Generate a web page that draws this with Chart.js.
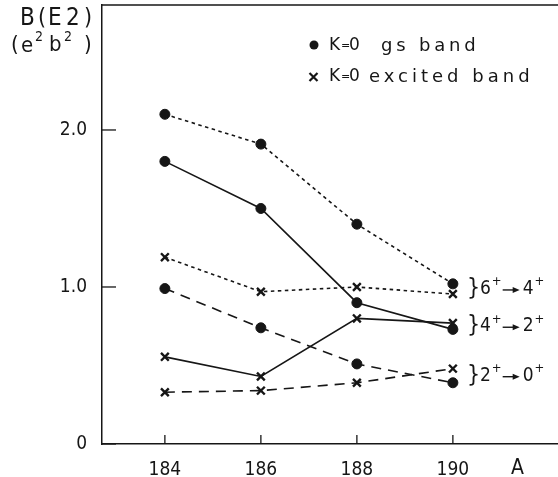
<!DOCTYPE html>
<html lang="en">
<head>
<meta charset="UTF-8">
<title>B(E2) values</title>
<script src="https://cdn.jsdelivr.net/npm/chart.js@4.4.0/dist/chart.umd.min.js"></script>
<style>
    body{ margin:0; background:#fff; }
    #wrap{ width:558px; height:477px; }
</style>
</head>
<body>
<div id="wrap"><canvas id="c" width="558" height="477"></canvas></div>
<script>
// mass number A
var massNumbers = [184, 186, 188, 190];
var xTicks = [184, 186, 188, 190];
var yTicks = [0, 1, 2];
var yTickLabels = ['0', '1.0', '2.0'];

// K=0 gs band
var gs64 = [2.10, 1.91, 1.40, 1.02];
var gs42 = [1.80, 1.50, 0.90, 0.73];
var gs20 = [0.99, 0.74, 0.51, 0.39];
// K=0 excited band
var ex64 = [1.19, 0.97, 1.00, 0.955];
var ex42 = [0.555, 0.43, 0.80, 0.77];
var ex20 = [0.33, 0.34, 0.39, 0.48];

var transitions = [
    { from: '6', to: '4', gs: gs64, ex: ex64 },
    { from: '4', to: '2', gs: gs42, ex: ex42 },
    { from: '2', to: '0', gs: gs20, ex: ex20 }
];

var INK = '#161616';
var FONT = '"DejaVu Sans Condensed", "DejaVu Sans", sans-serif';
var WIDE = '"DejaVu Sans", sans-serif';

function pts(vals) {
    return vals.map(function (v, i) { return { x: massNumbers[i], y: v }; });
}

var DOT = [3.5, 3.5], DASH = [10, 7];

function series(label, vals, dash, style) {
    return {
        label: label,
        data: pts(vals),
        borderColor: INK,
        backgroundColor: INK,
        borderWidth: 1.6,
        borderDash: dash,
        pointStyle: style,
        pointRadius: style === 'circle' ? 5 : 5.5,
        pointBorderWidth: style === 'circle' ? 1 : 2.4,
        fill: false,
        tension: 0
    };
}

function txt(ctx, s, x, y, size, spacing, family) {
    ctx.font = size + 'px ' + (family || FONT);
    ctx.letterSpacing = (spacing || 0) + 'px';
    ctx.fillText(s, x, y);
    var w = ctx.measureText(s).width;
    ctx.letterSpacing = '0px';
    return w;
}

function drawTransition(ctx, x, y, a, b) {
    ctx.fillStyle = INK;
    ctx.strokeStyle = INK;
    ctx.textBaseline = 'middle';
    ctx.textAlign = 'left';
    txt(ctx, '}', x, y, 23);
    var cx = x + 13;
    cx += txt(ctx, a, cx, y, 19) + 1;
    cx += txt(ctx, '+', cx, y - 7, 13) + 1;
    // arrow
    ctx.lineWidth = 1.4;
    ctx.beginPath();
    ctx.moveTo(cx, y + 1);
    ctx.lineTo(cx + 12, y + 1);
    ctx.stroke();
    ctx.beginPath();
    ctx.moveTo(cx + 17, y + 1);
    ctx.lineTo(cx + 10, y - 2);
    ctx.lineTo(cx + 10, y + 4);
    ctx.closePath();
    ctx.fill();
    cx += 20;
    cx += txt(ctx, b, cx, y, 19) + 1;
    txt(ctx, '+', cx, y - 7, 13);
}

var frame = {
    id: 'frame',
    afterDraw: function (chart) {
        var ctx = chart.ctx, a = chart.chartArea;
        var xs = chart.scales.x, ys = chart.scales.y;
        ctx.save();
        ctx.strokeStyle = INK;
        ctx.lineWidth = 1.5;
        // top frame line
        ctx.beginPath();
        ctx.moveTo(a.left, a.top);
        ctx.lineTo(a.right, a.top);
        ctx.stroke();
        // inward ticks
        ctx.lineWidth = 1.3;
        yTicks.forEach(function (v) {
            var py = ys.getPixelForValue(v);
            ctx.beginPath();
            ctx.moveTo(a.left, py);
            ctx.lineTo(a.left + 14, py);
            ctx.stroke();
        });
        xTicks.forEach(function (v) {
            var px = xs.getPixelForValue(v);
            ctx.beginPath();
            ctx.moveTo(px, a.bottom);
            ctx.lineTo(px, a.bottom - 9);
            ctx.stroke();
        });

        ctx.fillStyle = INK;
        ctx.textAlign = 'left';
        ctx.textBaseline = 'middle';
        // y-axis title
        txt(ctx, 'B', 20, 19, 24);
        txt(ctx, '(', 38, 19, 23);
        txt(ctx, 'E', 48, 19, 24);
        txt(ctx, '2', 66, 19, 24);
        txt(ctx, ')', 84, 19, 23);
        txt(ctx, '(', 11, 45, 22);
        txt(ctx, 'e', 21, 46, 22);
        txt(ctx, '2', 35, 37, 14);
        txt(ctx, 'b', 49, 45, 22);
        txt(ctx, '2', 64, 37, 14);
        txt(ctx, ')', 84, 45, 22);

        // x-axis title
        txt(ctx, 'A', 511, 469, 21);

        // legend
        ctx.beginPath();
        ctx.arc(314, 45, 4.5, 0, Math.PI * 2);
        ctx.fill();
        ctx.lineWidth = 2.2;
        ctx.beginPath();
        ctx.moveTo(309.5, 73); ctx.lineTo(317.5, 81);
        ctx.moveTo(317.5, 73); ctx.lineTo(309.5, 81);
        ctx.stroke();
        [46, 77].forEach(function (y) {
            txt(ctx, 'K', 329, y, 17, 0, WIDE);
            txt(ctx, '=', 341, y, 11, 0, WIDE);
            txt(ctx, '0', 349, y, 17, 0, WIDE);
        });
        txt(ctx, 'gs band', 381, 46, 18, 3.8, WIDE);
        txt(ctx, 'excited band', 369, 77, 18, 4, WIDE);

        // transition labels next to A = 190
        var last = massNumbers.length - 1;
        transitions.forEach(function (t) {
            var py = ys.getPixelForValue((t.gs[last] + t.ex[last]) / 2);
            drawTransition(ctx, 467, py, t.from, t.to);
        });
        ctx.restore();
    }
};

function noPad(s) {
    s.paddingTop = 0; s.paddingBottom = 0;
    s.paddingLeft = 0; s.paddingRight = 0;
}

new Chart(document.getElementById('c'), {
    type: 'line',
    data: {
        datasets: [
            series('gs 6+->4+', gs64, DOT, 'circle'),
            series('gs 4+->2+', gs42, [], 'circle'),
            series('gs 2+->0+', gs20, DASH, 'circle'),
            series('exc 6+->4+', ex64, DOT, 'crossRot'),
            series('exc 4+->2+', ex42, [], 'crossRot'),
            series('exc 2+->0+', ex20, DASH, 'crossRot')
        ]
    },
    options: {
        responsive: false,
        animation: false,
        layout: { autoPadding: false, padding: { top: 5, right: 0, left: 0, bottom: 0 } },
        plugins: { legend: { display: false }, tooltip: { enabled: false } },
        scales: {
            x: {
                type: 'linear',
                min: 182.69,
                max: 192.19,
                afterBuildTicks: function (s) { s.ticks = xTicks.map(function (v) { return { value: v }; }); },
                afterFit: function (s) { s.height = 33; noPad(s); },
                grid: { display: false, drawTicks: false },
                border: { display: true, color: INK, width: 1.5 },
                ticks: {
                    padding: 15,
                    color: INK,
                    font: { family: FONT, size: 19 },
                    callback: function (v) { return String(v); }
                }
            },
            y: {
                min: 0,
                max: 2.796,
                afterBuildTicks: function (s) { s.ticks = yTicks.map(function (v) { return { value: v }; }); },
                afterFit: function (s) { s.width = 102; noPad(s); },
                grid: { display: false, drawTicks: false },
                border: { display: true, color: INK, width: 1.5 },
                ticks: {
                    padding: 15,
                    color: INK,
                    font: { family: FONT, size: 19 },
                    callback: function (v) { return yTickLabels[yTicks.indexOf(v)]; }
                }
            }
        }
    },
    plugins: [frame]
});
</script>
</body>
</html>
